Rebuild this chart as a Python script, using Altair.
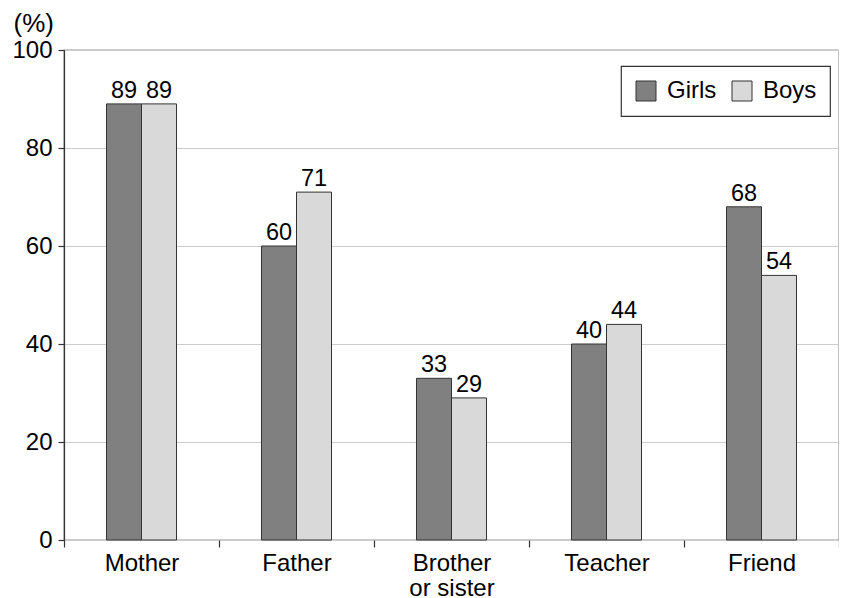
import altair as alt
import pandas as pd

categories = ["Mother", "Father", "Brother or sister", "Teacher", "Friend"]
series = ["Girls", "Boys"]
girls = [89, 60, 33, 40, 68]
boys = [89, 71, 29, 44, 54]
colors = ["#808080", "#d9d9d9"]
y_ticks = [0, 20, 40, 60, 80, 100]

rows = []
for i, c in enumerate(categories):
    rows.append({"category": c, "group": "Girls", "value": girls[i]})
    rows.append({"category": c, "group": "Boys", "value": boys[i]})
df = pd.DataFrame(rows)

FONT = "Liberation Sans"
INK = "#333333"

x = alt.X(
    "category:N",
    sort=categories,
    title=None,
    scale=alt.Scale(paddingInner=0, paddingOuter=0),
    axis=alt.Axis(
        labelAngle=0,
        labelFontSize=24,
        labelColor="black",
        tickBand="extent",
        tickSize=7,
        tickColor=INK,
        tickWidth=1.2,
        domain=False,
        grid=False,
        labelPadding=4,
        labelLineHeight=25,
        labelExpr="datum.value == 'Brother or sister' ? ['Brother', 'or sister'] : datum.label",
    ),
)
# spacer slots on both sides keep the pair of bars narrow and centred in each category
offset_domain = ["_left", "Girls", "Boys", "_right"]
xoff = alt.XOffset("group:N",
                   scale=alt.Scale(domain=offset_domain, paddingInner=0, paddingOuter=0.214))
y = alt.Y(
    "value:Q",
    title="(%)",
    scale=alt.Scale(domain=[0, 100], nice=False),
    axis=alt.Axis(
        values=y_ticks,
        grid=True,
        gridColor="#cccccc",
        gridWidth=1,
        labelFontSize=24,
        labelColor="black",
        tickSize=6,
        tickColor=INK,
        tickWidth=1.2,
        domainColor=INK,
        domainWidth=1.2,
        labelPadding=6,
        titleAngle=0,
        titleAlign="left",
        titleBaseline="alphabetic",
        titleX=-51,
        titleY=-19,
        titleFontSize=26,
        titleFontWeight="normal",
        titleColor="black",
    ),
)

bars = alt.Chart(df).mark_bar(stroke=INK, strokeWidth=1).encode(
    x=x,
    xOffset=xoff,
    y=y,
    color=alt.Color(
        "group:N",
        sort=series,
        scale=alt.Scale(domain=series, range=colors),
        legend=alt.Legend(
            title=None,
            orient="none",
            legendX=557,
            legendY=16,
            direction="horizontal",
            symbolType="square",
            symbolSize=400,
            symbolStrokeColor=INK,
            symbolStrokeWidth=1,
            symbolOpacity=1,
            labelFontSize=24,
            labelColor="black",
            labelOffset=9,
            columnPadding=13,
            padding=13,
            strokeColor=INK,
        ),
    ),
)

labels = alt.Chart(df).mark_text(
    baseline="alphabetic", dy=-6, fontSize=23.5, color="black", font=FONT
).encode(x=x, xOffset=xoff, y=y, text=alt.Text("value:Q"))

chart = (
    alt.layer(bars, labels)
    .properties(
        width=775,
        height=490,
        autosize=alt.AutoSizeParams(type="none"),
        padding={"left": 56, "top": 42, "right": 0, "bottom": 58},
    )
    .configure_view(stroke=INK, strokeWidth=1.2)
    .configure_axis(labelFont=FONT, titleFont=FONT)
    .configure_legend(labelFont=FONT, strokeWidth=1.2)
)

chart.save("out.html", embed_options={"renderer": "svg", "actions": False})
